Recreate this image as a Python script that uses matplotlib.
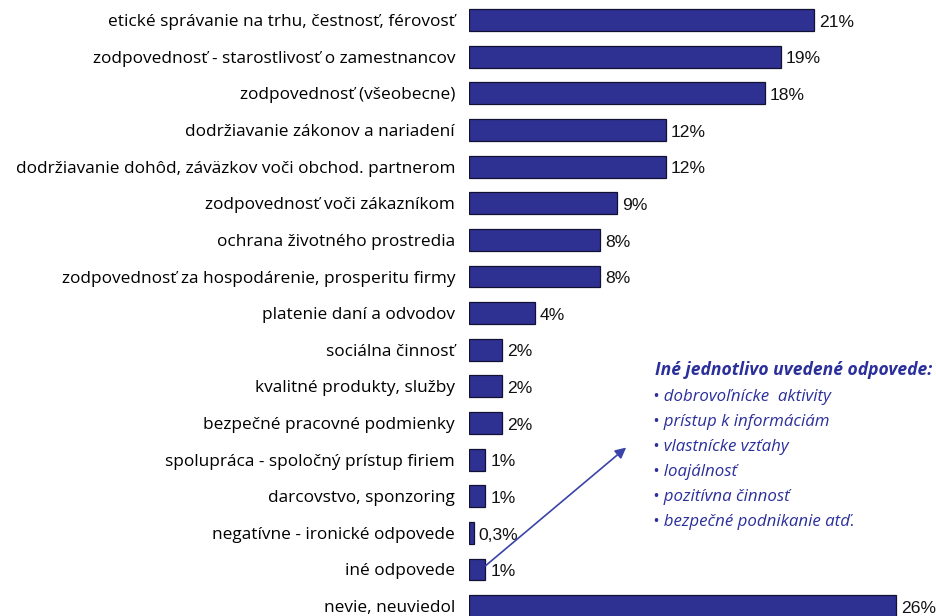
import matplotlib.pyplot as plt

categories = [
    "etické správanie na trhu, čestnosť, férovosť",
    "zodpovednosť - starostlivosť o zamestnancov",
    "zodpovednosť (všeobecne)",
    "dodržiavanie zákonov a nariadení",
    "dodržiavanie dohôd, záväzkov voči obchod. partnerom",
    "zodpovednosť voči zákazníkom",
    "ochrana životného prostredia",
    "zodpovednosť za hospodárenie, prosperitu firmy",
    "platenie daní a odvodov",
    "sociálna činnosť",
    "kvalitné produkty, služby",
    "bezpečné pracovné podmienky",
    "spolupráca - spoločný prístup firiem",
    "darcovstvo, sponzoring",
    "negatívne - ironické odpovede",
    "iné odpovede",
    "nevie, neuviedol",
]
values = [21, 19, 18, 12, 12, 9, 8, 8, 4, 2, 2, 2, 1, 1, 0.3, 1, 26]
value_labels = ["21%", "19%", "18%", "12%", "12%", "9%", "8%", "8%", "4%",
                "2%", "2%", "2%", "1%", "1%", "0,3%", "1%", "26%"]

note_title = "Iné jednotlivo uvedené odpovede:"
note_items = [
    "dobrovoľnícke  aktivity",
    "prístup k informáciám",
    "vlastnícke vzťahy",
    "loajálnosť",
    "pozitívna činnosť",
    "bezpečné podnikanie atď.",
]

bar_color = "#2E3192"
note_color = "#2B2F9A"

plt.rcParams['font.family'] = ['Liberation Sans', 'DejaVu Sans']
label_font = ['Open Sans', 'DejaVu Sans']

fig = plt.figure(figsize=(9.37, 6.16), dpi=100)
ax = fig.add_axes([469 / 937, 0, 1 - 469 / 937, 1])

pos = list(range(len(categories)))
ax.barh(pos, values, height=0.6, color=bar_color, edgecolor="#111133", linewidth=0.9)

for p, v, lab in zip(pos, values, value_labels):
    ax.text(v + 0.3, p + 0.06, lab, va="center", ha="left", fontsize=12.6, color="#111111")

ax.set_yticks(pos)
ax.set_yticklabels(categories, fontsize=12.4, family=label_font)
ax.tick_params(axis="y", length=0, pad=10)
ax.set_xticks([])
for s in ax.spines.values():
    s.set_visible(False)

ax.set_xlim(0, 28.5)
ax.set_ylim(16.27, -0.55)

# note box with other answers
fig.text(655 / 937, 1 - 370 / 616, note_title, fontsize=12.6, color=note_color,
         fontstyle="italic", fontweight="bold", va="center", ha="left", family=label_font)
for i, item in enumerate(note_items):
    fig.text(653 / 937, 1 - (397 + i * 25) / 616, "• " + item, fontsize=12.2,
             color=note_color, fontstyle="italic", va="center", ha="left", family=label_font)

ax.annotate("", xy=(9.57, 11.67), xytext=(1.0, 14.9),
            arrowprops=dict(arrowstyle="-|>", color="#3A44A8", lw=1.2,
                            mutation_scale=16, shrinkA=0, shrinkB=0))

fig.savefig("out.png", dpi=100)
